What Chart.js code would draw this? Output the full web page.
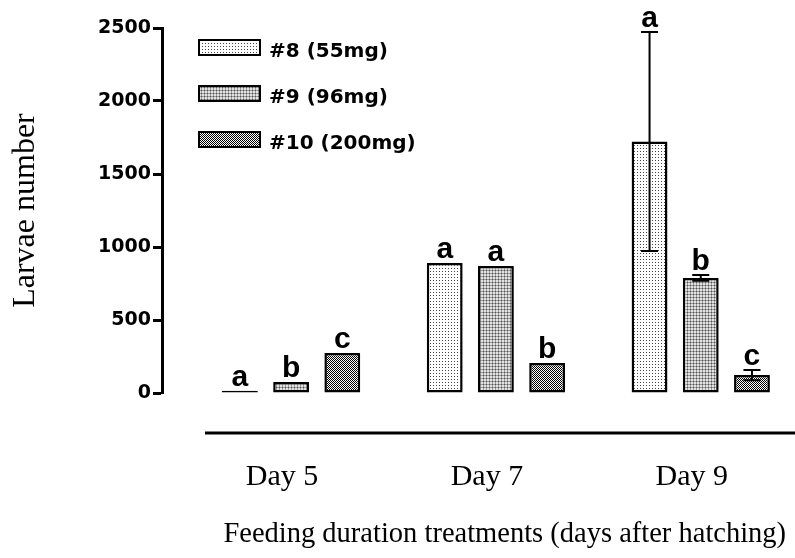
<!DOCTYPE html>
<html>
<head>
<meta charset="utf-8">
<script src="https://cdn.jsdelivr.net/npm/chart.js@4.4.1/dist/chart.umd.min.js"></script>
<style>
  html, body { margin: 0; padding: 0; background: #fff; }
  #wrap { width: 795px; height: 558px; }
</style>
</head>
<body>
<div id="wrap"><canvas id="chart"></canvas></div>
<script>
const days = ["Day 5", "Day 7", "Day 9"];
const dayPositions = [1, 2, 3];
const seriesNames = ["#8 (55mg)", "#9 (96mg)", "#10 (200mg)"];
const larvae55 = [15, 890, 1722];
const larvae96 = [75, 870, 788];
const larvae200 = [274, 205, 123];
const err55 = [0, 0, 750];
const err96 = [0, 0, 20];
const err200 = [0, 0, 35];
const letters55 = ["a", "a", "a"];
const letters96 = ["b", "a", "b"];
const letters200 = ["c", "b", "c"];
const yTicks = [0, 500, 1000, 1500, 2000, 2500];

const serif = "'Liberation Serif', 'Times New Roman', serif";
const boldSans = "'DejaVu Sans', sans-serif";

function makePattern(size, draw) {
  const c = document.createElement("canvas");
  c.width = size;
  c.height = size;
  const g = c.getContext("2d");
  draw(g);
  return g.createPattern(c, "repeat");
}

// sparse dots on white
const dots = makePattern(3, (g) => {
  g.fillStyle = "#fff";
  g.fillRect(0, 0, 3, 3);
  g.fillStyle = "#444";
  g.fillRect(1, 1, 1, 1);
});
// light grey plaid
const plaid = makePattern(3, (g) => {
  g.fillStyle = "#e2e2e2";
  g.fillRect(0, 0, 3, 3);
  g.fillStyle = "#9a9a9a";
  g.fillRect(0, 0, 3, 1);
  g.fillRect(0, 0, 1, 3);
  g.fillStyle = "#555";
  g.fillRect(0, 0, 1, 1);
});
// dark checker
const checker = makePattern(2, (g) => {
  g.fillStyle = "#fff";
  g.fillRect(0, 0, 2, 2);
  g.fillStyle = "#000";
  g.fillRect(0, 0, 1, 1);
  g.fillRect(1, 1, 1, 1);
});

const groups = [
  { name: seriesNames[0], values: larvae55, errors: err55, letters: letters55, fill: dots },
  { name: seriesNames[1], values: larvae96, errors: err96, letters: letters96, fill: plaid },
  { name: seriesNames[2], values: larvae200, errors: err200, letters: letters200, fill: checker },
];

const extras = {
  id: "extras",
  afterDatasetsDraw(chart) {
    const { ctx, chartArea, scales } = chart;
    const y = scales.y;
    ctx.save();
    ctx.strokeStyle = "#000";
    ctx.fillStyle = "#000";

    // detached horizontal baseline under the plot
    ctx.lineWidth = 3;
    ctx.beginPath();
    ctx.moveTo(chartArea.left + 43, chartArea.bottom + 40);
    ctx.lineTo(chart.width, chartArea.bottom + 40);
    ctx.stroke();

    // error bars and significance letters
    groups.forEach((grp, di) => {
      const meta = chart.getDatasetMeta(di);
      meta.data.forEach((bar, i) => {
        const v = grp.values[i];
        const e = grp.errors[i];
        let top = y.getPixelForValue(v);
        if (e > 0) {
          const hi = y.getPixelForValue(v + e);
          const lo = y.getPixelForValue(v - e);
          ctx.lineWidth = 2;
          ctx.beginPath();
          ctx.moveTo(bar.x, lo);
          ctx.lineTo(bar.x, hi);
          ctx.moveTo(bar.x - 8.5, hi);
          ctx.lineTo(bar.x + 8.5, hi);
          ctx.moveTo(bar.x - 8.5, lo);
          ctx.lineTo(bar.x + 8.5, lo);
          ctx.stroke();
          top = hi;
        }
        ctx.font = "bold 30px 'Liberation Sans', Arial, sans-serif";
        ctx.textAlign = "center";
        ctx.textBaseline = "alphabetic";
        ctx.fillText(grp.letters[i], bar.x, top - 5);
      });
    });

    // legend
    const lx = chartArea.left + 37;
    const ly = chartArea.top + 12;
    ctx.font = "bold 20px " + boldSans;
    ctx.textAlign = "left";
    ctx.textBaseline = "middle";
    groups.forEach((grp, i) => {
      const top = ly + i * 46;
      ctx.fillStyle = grp.fill;
      ctx.fillRect(lx, top, 61, 15);
      ctx.lineWidth = 2;
      ctx.strokeRect(lx, top, 61, 15);
      ctx.fillStyle = "#000";
      ctx.fillText(grp.name, lx + 70, top + 12);
    });
    ctx.restore();
  },
};

new Chart(document.getElementById("chart"), {
  type: "bar",
  data: {
    datasets: groups.map((grp) => ({
      label: grp.name,
      data: dayPositions.map((x, i) => ({ x, y: grp.values[i] })),
      backgroundColor: grp.fill,
      borderColor: "#000",
      borderWidth: 2.5,
      borderSkipped: false,
      categoryPercentage: 0.75,
      barPercentage: 0.7,
    })),
  },
  options: {
    responsive: true,
    maintainAspectRatio: false,
    animation: false,
    events: [],
    layout: { padding: { top: 28, right: 0, bottom: 0, left: 0 } },
    plugins: {
      legend: { display: false },
      tooltip: { enabled: false },
    },
    scales: {
      x: {
        type: "linear",
        offset: false,
        min: 0.3697,
        max: 3.4167,
        grid: { display: false },
        border: { display: false },
        afterFit: (scale) => { scale.height = 165; },
        afterBuildTicks: (scale) => { scale.ticks = dayPositions.map((v) => ({ value: v })); },
        ticks: {
          autoSkip: false,
          maxRotation: 0,
          padding: 58,
          labelOffset: -9,
          color: "#000",
          font: { family: serif, size: 30 },
          callback: (v, i) => days[i],
        },
        title: {
          display: true,
          text: "Feeding duration treatments (days after hatching)",
          align: "end",
          color: "#000",
          font: { family: serif, size: 28.5 },
          padding: { top: 0, bottom: 6 },
        },
      },
      y: {
        min: 0,
        max: 2500,
        afterFit: (scale) => { scale.width = 162; },
        afterBuildTicks: (scale) => { scale.ticks = yTicks.map((v) => ({ value: v })); },
        border: { display: true, color: "#000", width: 3 },
        grid: { drawOnChartArea: false, drawTicks: true, tickLength: 9, tickWidth: 3, tickColor: "#000" },
        ticks: {
          color: "#000",
          padding: 2,
          font: { family: boldSans, size: 19, weight: "bold" },
          callback: (v) => String(v),
        },
        title: {
          display: true,
          text: "Larvae number",
          color: "#000",
          font: { family: serif, size: 32 },
          padding: { top: 6, bottom: 0 },
        },
      },
    },
  },
  plugins: [extras],
});
</script>
</body>
</html>
